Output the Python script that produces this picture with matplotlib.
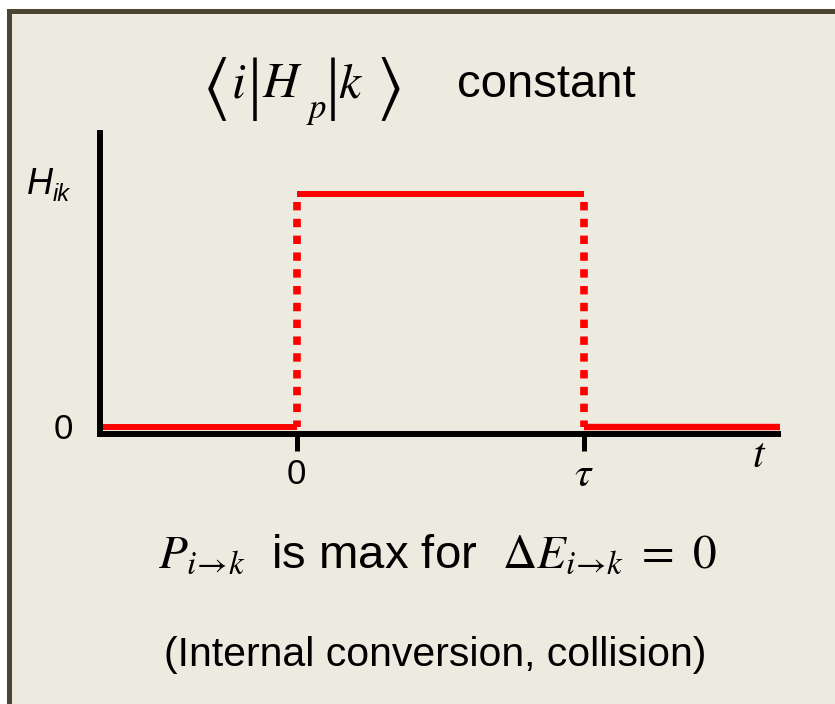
import matplotlib
matplotlib.use("Agg")
import matplotlib.pyplot as plt
import matplotlib.transforms as mtransforms
from matplotlib.patches import Rectangle

plt.rcParams['mathtext.fontset'] = 'stix'
plt.rcParams['font.family'] = ['Liberation Sans', 'DejaVu Sans']

# ---- data ----
tau = 1.0
t_left = -0.673
t_right = 1.682
H_ik = 1.0
pulse_t = [0.0, tau]          # switch-on / switch-off times
pulse_H = [H_ik, H_ik]        # constant coupling during the pulse
off_left_t = [t_left, 0.0]
off_left_H = [0.0, 0.0]
off_right_t = [tau, t_right]
off_right_H = [0.0, 0.0]
xtick_pos = [0.0, tau]
xtick_labels = ['0', r'$\tau$']

W, Hpx = 835, 704
fig = plt.figure(figsize=(W / 100, Hpx / 100), dpi=100)
fig.patch.set_facecolor('white')

def fx(px):
    return px / W

def fy(py):
    return 1 - py / Hpx

# background panel and border
fig.patches.append(Rectangle((fx(7), 0), 1 - fx(7), fy(9), transform=fig.transFigure,
                             facecolor='#EDEAE0', edgecolor='none', zorder=-5))
fig.patches.append(Rectangle((fx(7), fy(14)), 1 - fx(7), 5 / Hpx, transform=fig.transFigure,
                             facecolor='#4B4631', edgecolor='none', zorder=-4))
fig.patches.append(Rectangle((fx(7), 0), 5 / W, fy(9), transform=fig.transFigure,
                             facecolor='#4B4631', edgecolor='none', zorder=-4))

ax = fig.add_axes([0, 0, 1, 1])
ax.set_zorder(1)
ax.patch.set_visible(False)
ax.set_xlim(-296.5 / 287.5, (W - 296.5) / 287.5)
ax.set_ylim(-(Hpx - 434) / 240, 434 / 240)
ax.axis('off')

# axes lines (black)
x_axis_start, x_axis_end = -0.694, 1.685
y_axis_top = 1.267
ax.plot([x_axis_start, x_axis_end], [0, 0], color='black', lw=4.3, solid_capstyle='butt', zorder=2)
ax.plot([x_axis_start + 0.0105, x_axis_start + 0.0105], [-0.012, y_axis_top], color='black', lw=4.3,
        solid_capstyle='butt', zorder=2)
for xt in xtick_pos:
    ax.plot([xt, xt], [0, -0.072], color='black', lw=3.6, solid_capstyle='butt', zorder=2)

# red pulse
up = mtransforms.offset_copy(ax.transData, fig=fig, x=0, y=7, units='dots')
ax.plot(off_left_t, off_left_H, color='#FF0000', lw=4.3, solid_capstyle='butt', transform=up, zorder=3)
ax.plot(off_right_t, off_right_H, color='#FF0000', lw=4.6, solid_capstyle='butt', transform=up, zorder=3)
ax.plot(pulse_t, pulse_H, color='#FF0000', lw=4.3, solid_capstyle='butt', zorder=3)
for xt in pulse_t:
    ax.plot([xt, xt], [H_ik - 0.035, 0.03], color='#FF0000', lw=5.5, dashes=(1.1, 1.1),
            dash_capstyle='butt', zorder=3)

# tick labels
ax.text(xtick_pos[0], -0.17, xtick_labels[0], ha='center', va='center', fontsize=25)
ax.text(xtick_pos[1], -0.17, xtick_labels[1], ha='center', va='center', fontsize=30)
ax.text(-0.81, 0.02, '0', ha='center', va='center', fontsize=25)
fig.text(fx(27), fy(194), 'H', ha='left', va='baseline', fontsize=26, fontstyle='italic')
fig.text(fx(53), fy(201), 'ik', ha='left', va='baseline', fontsize=17, fontstyle='italic')
ax.text(1.61, -0.09, r'$t$', ha='center', va='center', fontsize=30)

# title pieces: < i | H_p | k >
big = 50
fig.text(fx(215), fy(89), r'$\langle$', ha='center', va='center', fontsize=big)
fig.text(fx(239), fy(97), r'$i$', ha='center', va='baseline', fontsize=36)
fig.text(fx(255), fy(89), '|', ha='center', va='center', fontsize=50, family='Liberation Serif')
fig.text(fx(262), fy(97), r'$H$', ha='left', va='baseline', fontsize=36)
fig.text(fx(317), fy(118), r'$p$', ha='center', va='baseline', fontsize=25)
fig.text(fx(333), fy(89), '|', ha='center', va='center', fontsize=50, family='Liberation Serif')
fig.text(fx(351), fy(97), r'$k$', ha='center', va='baseline', fontsize=36)
fig.text(fx(388), fy(89), r'$\rangle$', ha='center', va='center', fontsize=big)
fig.text(fx(457), fy(97), 'constant', ha='left', va='baseline', fontsize=34)

fig.text(fx(437), fy(568),
         r'$P_{i\!\rightarrow\!k}$  is max for  $\Delta E_{i\!\rightarrow\!k}\ =\ 0$',
         ha='center', va='baseline', fontsize=34)
fig.text(fx(435.5), fy(655), '(Internal conversion, collision)', ha='center', va='center', fontsize=29.5)

fig.savefig('out.png', dpi=100, facecolor='white')
